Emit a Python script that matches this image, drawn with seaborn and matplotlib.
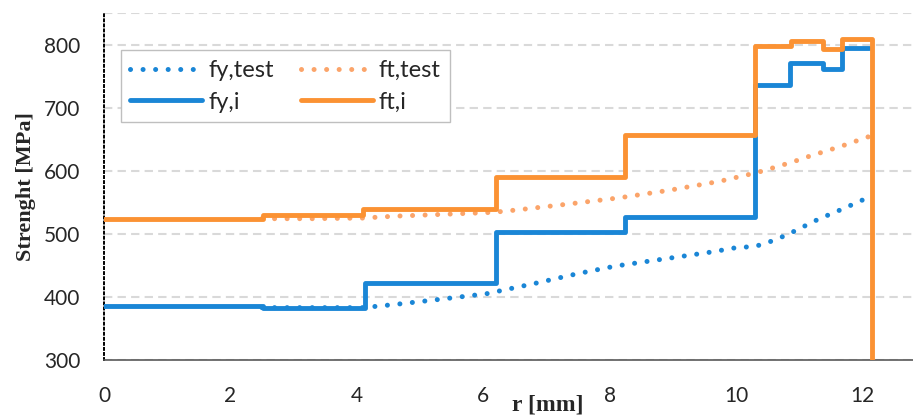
import matplotlib
matplotlib.use("Agg")
import matplotlib.pyplot as plt
import seaborn as sns
import numpy as np

# ---- data ----
r_fy_i = [0, 2.51, 4.13, 6.21, 8.25, 10.30, 10.86, 11.37, 11.68, 12.10]
fy_i = [385, 383, 422, 503, 527, 736, 771, 762, 795, 795]

r_ft_i = [0, 2.51, 4.10, 6.21, 8.24, 10.30, 10.87, 11.37, 11.67, 12.15]
ft_i = [524, 530, 539, 590, 657, 797, 805, 793, 809, 300]

r_fy_test = [2.5, 3.3, 4.1, 4.6, 5.3, 6.05, 6.8, 7.5, 8.1, 8.85, 9.6, 10.0, 10.3, 10.5, 10.8, 11.3, 11.7, 12.1]
fy_test = [383, 383, 383, 388, 396, 405, 421, 437, 449, 460, 471, 478, 480, 486, 498, 523, 540, 558]

r_ft_test = [2.5, 3.3, 4.1, 4.6, 5.4, 6.15, 6.55, 7.33, 8.15, 8.94, 9.73, 10.33, 10.6, 10.9, 11.1, 11.67, 12.1]
ft_test = [524, 524, 525, 528, 531, 534, 538, 547, 557, 569, 583, 597, 605, 614, 621, 639, 654]

x_ticks = [0, 2, 4, 6, 8, 10, 12]
y_ticks = [300, 400, 500, 600, 700, 800]

# ---- style ----
sns.set_theme(style="white")
plt.rcParams['font.family'] = ['Lato', 'DejaVu Sans']

BLUE = "#1A86D6"
ORANGE = "#FB9233"
BLUE_DOT = "#1A86D6"
ORANGE_DOT = "#FBA46A"

W, H = 913, 417
fig = plt.figure(figsize=(W / 100, H / 100), dpi=100)
ax = fig.add_axes([104 / W, (H - 360) / H, 1 - 104 / W, (360 - 13) / H])

dotted = (0, (0.01, 2.5))
sns.lineplot(x=r_fy_test, y=fy_test, ax=ax, sort=False, estimator=None,
             color=BLUE_DOT, lw=3.6, linestyle=dotted, dash_capstyle='round',
             label="fy,test", zorder=3)
sns.lineplot(x=r_ft_test, y=ft_test, ax=ax, sort=False, estimator=None,
             color=ORANGE_DOT, lw=3.6, linestyle=dotted, dash_capstyle='round',
             label="ft,test", zorder=3)
sns.lineplot(x=r_fy_i, y=fy_i, ax=ax, sort=False, estimator=None,
             color=BLUE, lw=3.5, drawstyle='steps-post', label="fy,i", zorder=4)
sns.lineplot(x=r_ft_i, y=ft_i, ax=ax, sort=False, estimator=None,
             color=ORANGE, lw=3.5, drawstyle='steps-post', label="ft,i", zorder=5)

ax.set_xlim(0, (W - 104) / 63.2)
ax.set_ylim(300, 850)
ax.set_xticks(x_ticks)
ax.set_yticks(y_ticks)
ax.tick_params(axis='both', labelsize=15, length=0, colors="#262626")
ax.tick_params(axis='y', pad=17)
ax.tick_params(axis='x', pad=19)

# grid
ax.yaxis.grid(True, color="#D9D9D9", lw=1.5, linestyle=(0, (4, 2.5)))
ax.xaxis.grid(False)
ax.axhline(850, color="#D9D9D9", lw=1.5, linestyle=(0, (4, 2.5)), zorder=1)
ax.set_axisbelow(True)

# spines
for s in ['top', 'right']:
    ax.spines[s].set_visible(False)
ax.spines['left'].set_linestyle((0, (1, 1.6)))
ax.spines['left'].set_color("black")
ax.spines['left'].set_linewidth(1.4)
ax.spines['bottom'].set_color("#595959")
ax.spines['bottom'].set_linewidth(1.2)

ax.set_ylabel("Strenght [MPa]", family="Liberation Serif", fontweight="bold",
              fontsize=16, color="#262626")
ax.set_xlabel("r [mm]", family="Liberation Serif", fontweight="bold",
              fontsize=17, color="#262626")
ax.xaxis.set_label_coords((548 - 104) / (W - 104), -0.100)
ax.yaxis.set_label_coords(-0.084, 0.5)

handles, labels = ax.get_legend_handles_labels()
order = [0, 2, 1, 3]
leg = ax.legend([handles[i] for i in order], [labels[i] for i in order],
                ncol=2, loc='upper left', bbox_to_anchor=(0.021, 0.892),
                borderaxespad=0,
                fontsize=17, frameon=True, fancybox=False, framealpha=1,
                edgecolor="#BFBFBF", handlelength=3.05, handletextpad=0.25,
                columnspacing=1.15, labelspacing=0.45, borderpad=0.4)
leg.get_frame().set_linewidth(1.0)
for t in leg.get_texts():
    t.set_color("#262626")

fig.savefig("out.png", dpi=100)
